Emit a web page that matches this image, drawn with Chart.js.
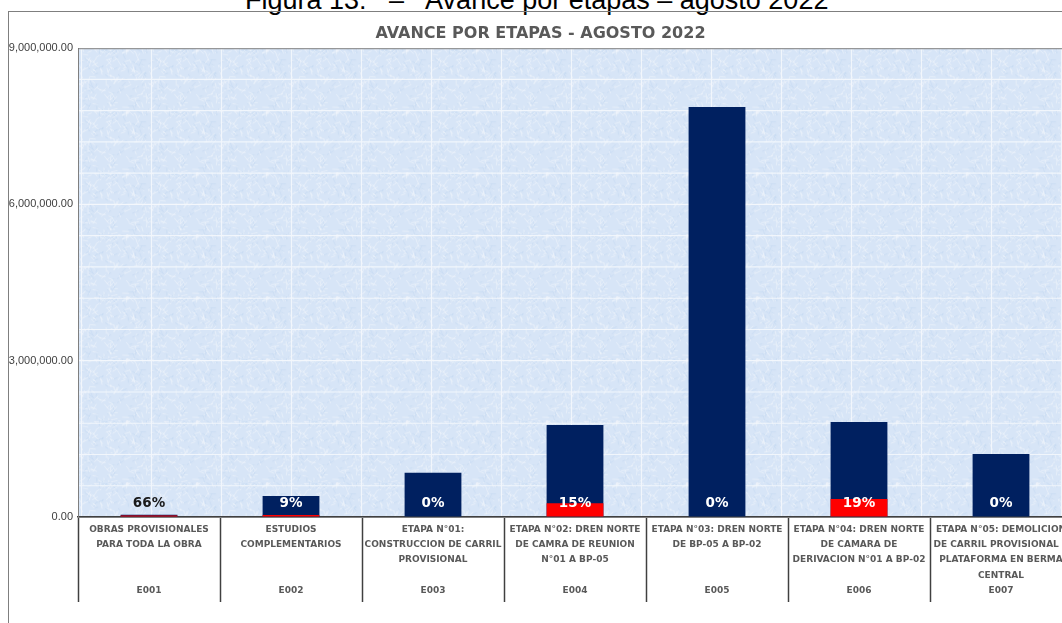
<!DOCTYPE html>
<html>
<head>
<meta charset="utf-8">
<script src="https://cdn.jsdelivr.net/npm/chart.js@4.4.1/dist/chart.umd.min.js"></script>
<style>
  html, body { margin: 0; padding: 0; width: 1062px; height: 623px; overflow: hidden; background: #fff; }
  #caption { position: absolute; left: 245px; top: -13px; font: 27px "Liberation Sans", Arial, sans-serif;
             line-height: 27px; white-space: pre; color: #000; }
  #frame { position: absolute; left: 8px; top: 11px; width: 1100px; height: 700px;
           border-left: 1px solid #7f7f7f; border-top: 1px solid #7f7f7f; }
  #wrap { position: absolute; left: 9px; top: 12px; width: 1075px; height: 600px; }
</style>
</head>
<body>
<div id="caption">Figura 13:   –   Avance por etapas – agosto 2022</div>
<div id="frame"></div>
<div id="wrap"><canvas id="chart"></canvas></div>
<script>
// codes and stage names as they appear under each bar
const codigos = ["E001", "E002", "E003", "E004", "E005", "E006", "E007"];
const etapas = [
  ["OBRAS PROVISIONALES", "PARA TODA LA OBRA"],
  ["ESTUDIOS", "COMPLEMENTARIOS"],
  ["ETAPA N°01:", "CONSTRUCCION DE CARRIL", "PROVISIONAL"],
  ["ETAPA N°02: DREN NORTE", "DE CAMRA DE REUNION", "N°01 A BP-05"],
  ["ETAPA N°03: DREN NORTE", "DE BP-05 A BP-02"],
  ["ETAPA N°04: DREN NORTE", "DE CAMARA DE", "DERIVACION N°01 A BP-02"],
  ["ETAPA N°05: DEMOLICION", "DE CARRIL PROVISIONAL Y", "PLATAFORMA EN BERMA", "CENTRAL"],
];

// (soles)
const presupuesto = [42000, 405000, 850000, 1765000, 7870000, 1825000, 1210000];
const ejecutado = [28000, 36000, 0, 264000, 0, 345000, 0];
const avance = ["66%", "9%", "0%", "15%", "0%", "19%", "0%"];
const yTicks = [0, 3000000, 6000000, 9000000];

// 4 description lines, then the code on the 5th
const labels = etapas.map((lines, i) => {
  const out = lines.slice();
  while (out.length < 4) out.push("");
  out.push(codigos[i]);
  return out;
});

// light blue "crackle" tile, deterministic
function makeTile() {
  const t = document.createElement("canvas");
  t.width = 70; t.height = 62;
  const g = t.getContext("2d");
  g.fillStyle = "#d7e5f7";
  g.fillRect(0, 0, 70, 62);
  const frac = (v) => v - Math.floor(v);
  g.lineWidth = 0.8;
  for (let i = 1; i < 240; i++) {
    const x = frac(Math.sin(i * 12.9898) * 43758.5453) * 70;
    const y = frac(Math.sin(i * 78.233) * 24634.6345) * 62;
    const a = frac(Math.sin(i * 39.346) * 11135.321) * Math.PI * 2;
    const l = 2 + frac(Math.sin(i * 5.17) * 9182.77) * 6;
    g.strokeStyle = i % 3 ? "rgba(255,255,255,0.5)" : "rgba(175,205,238,0.35)";
    g.beginPath();
    g.moveTo(x, y);
    g.lineTo(x + Math.cos(a) * l, y + Math.sin(a) * l);
    g.stroke();
  }
  return t;
}
const tile = makeTile();

const backdrop = {
  id: "backdrop",
  beforeDraw(chart) {
    const { ctx, chartArea: a } = chart;
    ctx.save();
    ctx.beginPath();
    ctx.rect(a.left, a.top, a.right - a.left, a.bottom - a.top);
    ctx.clip();
    ctx.translate(a.left, a.top);
    ctx.fillStyle = ctx.createPattern(tile, "repeat");
    ctx.fillRect(0, 0, a.right - a.left, a.bottom - a.top);
    ctx.restore();
    // tile seams
    ctx.save();
    ctx.strokeStyle = "rgba(244,247,252,0.9)";
    ctx.lineWidth = 1.2;
    ctx.beginPath();
    for (let x = a.left + 3.5; x < a.right; x += 70) {
      ctx.moveTo(x, a.top); ctx.lineTo(x, a.bottom);
    }
    const step = (a.bottom - a.top) / 15;
    for (let k = 1; k < 15; k++) {
      const y = a.bottom - k * step;
      ctx.moveTo(a.left, y); ctx.lineTo(a.right, y);
    }
    ctx.stroke();
    ctx.restore();
  },
  beforeDatasetsDraw(chart) {
    const { ctx, chartArea: a } = chart;
    ctx.save();
    ctx.strokeStyle = "#7f7f7f";
    ctx.lineWidth = 1;
    ctx.strokeRect(a.left + 0.5, a.top + 0.5, a.right - a.left, a.bottom - a.top);
    ctx.restore();
  },
  afterDatasetsDraw(chart) {
    const { ctx } = chart;
    const base = chart.scales.y.getPixelForValue(0);
    const meta = chart.getDatasetMeta(1);
    ctx.save();
    ctx.font = "bold 13.5px 'DejaVu Sans'";
    ctx.textAlign = "center";
    ctx.textBaseline = "middle";
    meta.data.forEach((bar, i) => {
      ctx.fillStyle = base - bar.y < 20 ? "#1a1a1a" : "#ffffff";
      ctx.fillText(avance[i], bar.x, base - 14);
    });
    ctx.restore();
  },
};

new Chart(document.getElementById("chart"), {
  type: "bar",
  data: {
    labels: labels,
    datasets: [
      { label: "Ejecutado", data: ejecutado, backgroundColor: "#ff0000", grouped: false, order: 1,
        barPercentage: 0.4, categoryPercentage: 1 },
      { label: "Presupuesto", data: presupuesto, backgroundColor: "#002060", grouped: false, order: 2,
        barPercentage: 0.4, categoryPercentage: 1 },
    ],
  },
  options: {
    responsive: true,
    maintainAspectRatio: false,
    animation: false,
    layout: { padding: { left: 0, right: 12, top: 0, bottom: 0 } },
    plugins: {
      legend: { display: false },
      tooltip: { enabled: false },
      title: {
        display: true,
        text: "AVANCE POR ETAPAS - AGOSTO 2022",
        color: "#595959",
        font: { family: "DejaVu Sans", size: 16, weight: "bold" },
        padding: { top: 12, bottom: 5 },
      },
    },
    scales: {
      x: {
        afterFit: (s) => { s.height = 95; },
        border: { color: "#404040", width: 1.5 },
        grid: { offset: true, color: "transparent", tickColor: "#404040", tickLength: 85, tickWidth: 1.5 },
        ticks: {
          autoSkip: false, maxRotation: 0, padding: -80, color: "#595959",
          font: { family: "DejaVu Sans", size: 9, weight: "bold", lineHeight: 1.69 },
        },
      },
      y: {
        min: 0, max: 9000000,
        afterFit: (s) => { s.width = 69; },
        afterBuildTicks: (s) => { s.ticks = yTicks.map((v) => ({ value: v })); },
        border: { color: "#595959", width: 1 },
        grid: { drawTicks: false, color: "rgba(244,247,252,0.9)" },
        ticks: {
          padding: 5, color: "#404040",
          font: { family: "Liberation Sans", size: 11 },
          callback: (v) => Number(v).toLocaleString("en-US", { minimumFractionDigits: 2, maximumFractionDigits: 2 }),
        },
      },
    },
  },
  plugins: [backdrop],
});
</script>
</body>
</html>
